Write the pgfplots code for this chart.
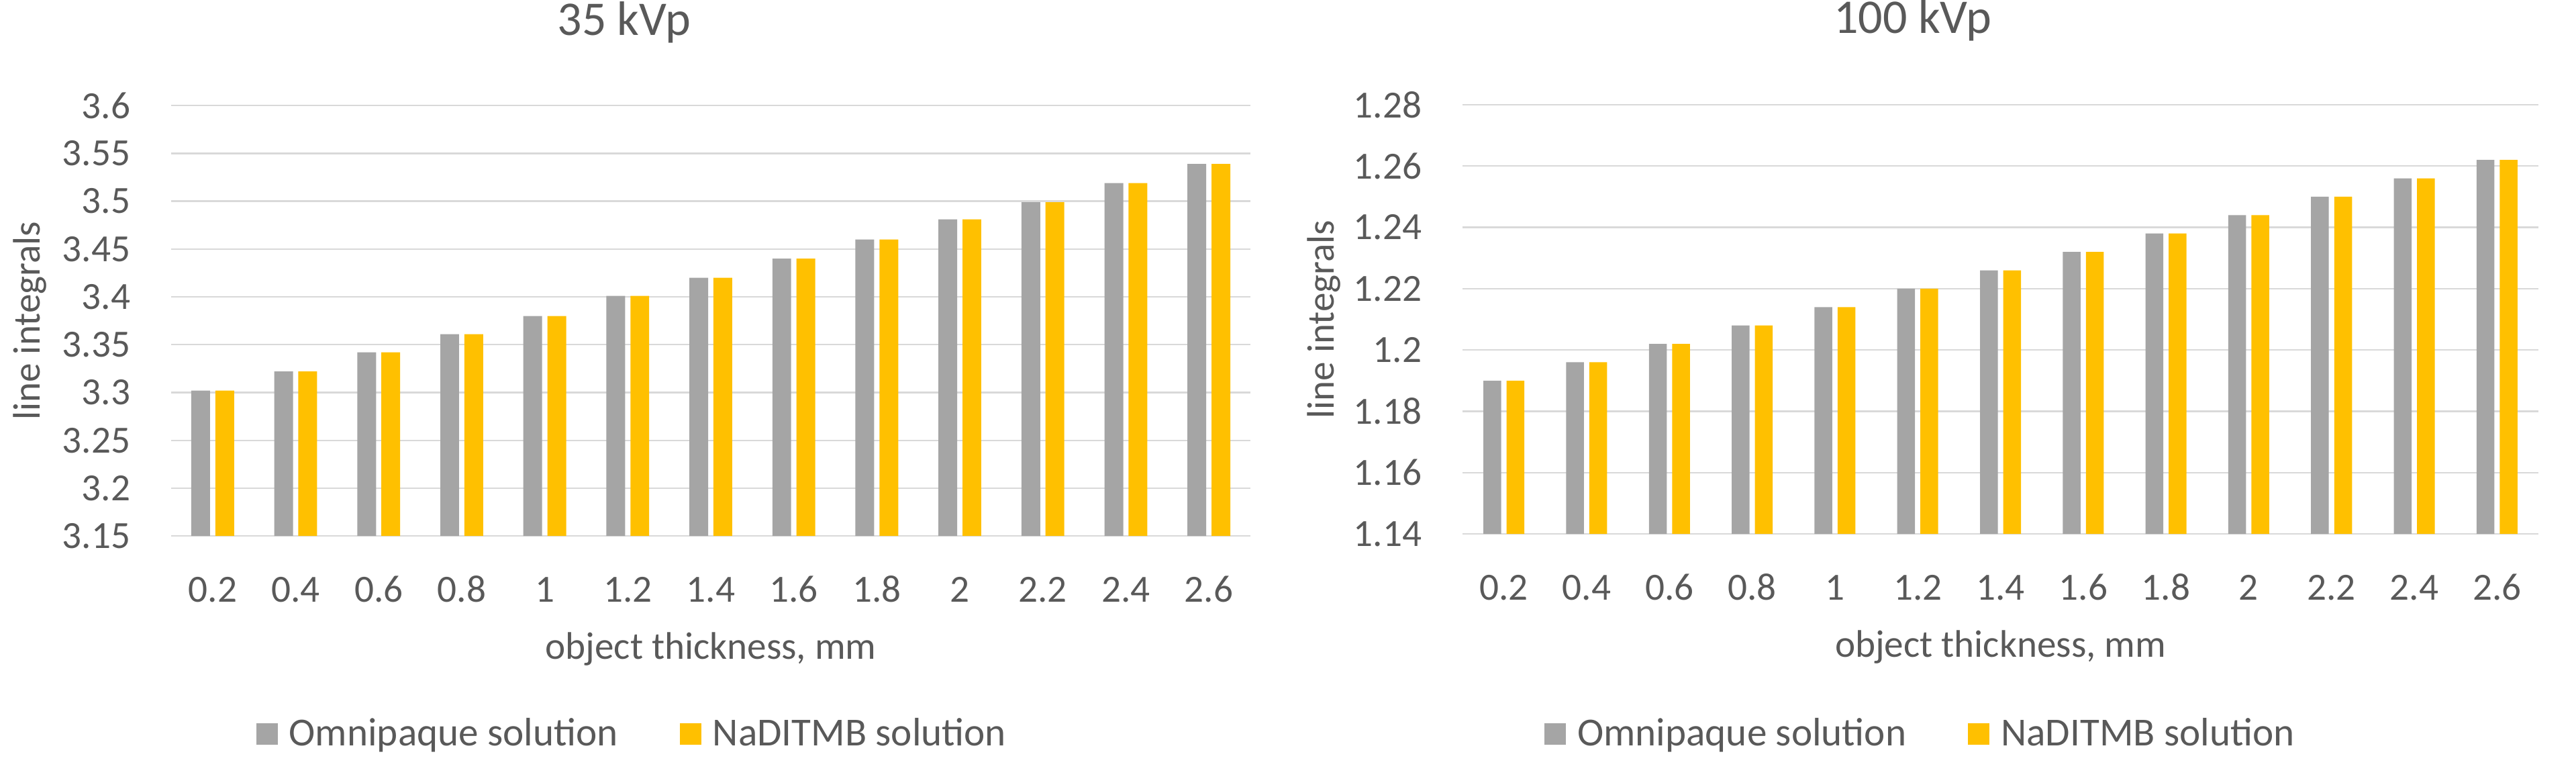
\documentclass[border=0pt]{standalone}
\usepackage{fontspec}
\setmainfont{Carlito}
\usepackage{pgfplots}
\pgfplotsset{compat=1.18}

\definecolor{omni}{HTML}{A5A5A5}
\definecolor{nadi}{HTML}{FFC000}
\definecolor{gridc}{HTML}{D9D9D9}
\definecolor{txt}{HTML}{595959}

\newcommand{\lblfont}{\fontsize{14.3}{17}\selectfont}

\pgfplotsset{
  excelbars/.style={
    scale only axis,
    xmin=-0.5, xmax=12.5,
    xtick={0,...,12},
    xticklabels={0.2,0.4,0.6,0.8,1,1.2,1.4,1.6,1.8,2,2.2,2.4,2.6},
    major tick length=0pt,
    axis line style={draw=none},
    ymajorgrids,
    major grid style={gridc, line width=0.6pt},
    tick label style={font=\lblfont, text=txt},
    xticklabel style={anchor=base, yshift=-24.5pt, inner sep=0pt},
    yticklabel style={anchor=east, xshift=-15pt, inner sep=0pt},
    label style={font=\lblfont, text=txt},
    xlabel={object thickness, mm},
    ylabel={line integrals},
    xlabel style={at={(axis description cs:0.5,0)}, anchor=base, yshift=-45.75pt, inner sep=0pt},
    title style={font=\fontsize{18}{21}\selectfont, text=txt, anchor=base, inner sep=0pt},
    legend style={draw=none, fill=none, anchor=center, legend columns=2,
      font=\fontsize{14.8}{17}\selectfont, text=txt,
      nodes={inner sep=0pt},
      /tikz/every odd column/.append style={column sep=4.25pt},
      /tikz/every even column/.append style={column sep=23pt}},
    legend image code/.code={\fill[##1,draw=none] (0pt,-4pt) rectangle (8pt,4pt);},
  }
}

\begin{document}
\begin{tikzpicture}
\path (0pt,0pt) rectangle (959.5pt,289.25pt);

% 35 kVp
\begin{axis}[excelbars,
  at={(63.75pt,91pt)}, anchor=south west,
  width=402pt, height=160.25pt,
  ymin=3.15, ymax=3.6,
  ytick={3.15,3.2,3.25,3.3,3.35,3.4,3.45,3.5,3.55,3.6},
  yticklabels={3.15,3.2,3.25,3.3,3.35,3.4,3.45,3.5,3.55,3.6},
  title={35 kVp},
  title style={at={(axis description cs:0.4198,1)}, yshift=20.25pt},
  ylabel style={at={(axis description cs:-0.1306,0.5)}, anchor=center},
  legend style={at={(axis description cs:0.4263,-0.460)}},
]
\addplot[ybar, bar width=0.226, bar shift=-0.145, fill=omni, draw=none]
  coordinates {(0,3.302) (1,3.322) (2,3.342) (3,3.361) (4,3.380) (5,3.401) (6,3.420)
               (7,3.440) (8,3.460) (9,3.481) (10,3.499) (11,3.519) (12,3.539)};
\addlegendentry{Omnipaque solution}
\addplot[ybar, bar width=0.226, bar shift=0.145, fill=nadi, draw=none]
  coordinates {(0,3.302) (1,3.322) (2,3.342) (3,3.361) (4,3.380) (5,3.401) (6,3.420)
               (7,3.440) (8,3.460) (9,3.481) (10,3.499) (11,3.519) (12,3.539)};
\addlegendentry{NaDITMB solution}
\end{axis}

% 100 kVp
\begin{axis}[excelbars,
  at={(544.75pt,91.75pt)}, anchor=south west,
  width=400.75pt, height=159.8pt,
  ymin=1.14, ymax=1.28,
  ytick={1.14,1.16,1.18,1.2,1.22,1.24,1.26,1.28},
  yticklabels={1.14,1.16,1.18,1.2,1.22,1.24,1.26,1.28},
  title={100 kVp},
  title style={at={(axis description cs:0.4186,1)}, yshift=20.5pt},
  ylabel style={at={(axis description cs:-0.129,0.5)}, anchor=center},
  legend style={at={(axis description cs:0.4248,-0.466)}},
]
\addplot[ybar, bar width=0.215, bar shift=-0.14, fill=omni, draw=none]
  coordinates {(0,1.190) (1,1.196) (2,1.202) (3,1.208) (4,1.214) (5,1.220) (6,1.226)
               (7,1.232) (8,1.238) (9,1.244) (10,1.250) (11,1.256) (12,1.262)};
\addlegendentry{Omnipaque solution}
\addplot[ybar, bar width=0.215, bar shift=0.14, fill=nadi, draw=none]
  coordinates {(0,1.190) (1,1.196) (2,1.202) (3,1.208) (4,1.214) (5,1.220) (6,1.226)
               (7,1.232) (8,1.238) (9,1.244) (10,1.250) (11,1.256) (12,1.262)};
\addlegendentry{NaDITMB solution}
\end{axis}
\end{tikzpicture}
\end{document}
